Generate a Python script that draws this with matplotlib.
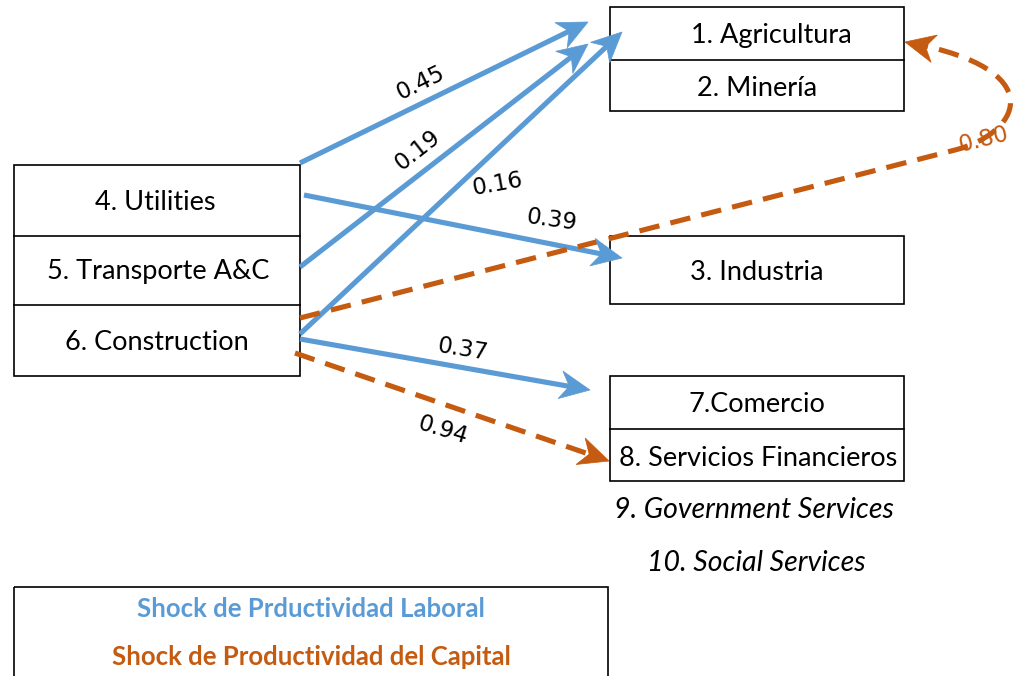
import numpy as np
import matplotlib
matplotlib.use("Agg")
import matplotlib.pyplot as plt
from matplotlib.patches import Rectangle, Polygon, PathPatch
from matplotlib.path import Path

BLUE = "#5b9bd5"
ORANGE = "#c55a11"

# sector labels
left_sectors = ["4. Utilities", "5. Transporte A&C", "6. Construction"]
top_sectors = ["1. Agricultura", "2. Minería"]
mid_sectors = ["3. Industria"]
bottom_sectors = ["7.Comercio", "8. Servicios Financieros"]
extra_sectors = ["9. Government Services", "10. Social Services"]
legend_labels = ["Shock de Prductividad Laboral", "Shock de Productividad del Capital"]

# labour productivity shock coefficients (blue)
labor_values = [0.45, 0.19, 0.16, 0.39, 0.37]
# capital productivity shock coefficients (orange)
capital_values = [0.94, 0.80]

fig = plt.figure(figsize=(10.16, 6.76), dpi=100)
ax = fig.add_axes([0, 0, 1, 1])
ax.set_xlim(0, 1016)
ax.set_ylim(676, 0)
ax.axis("off")

FONT = "Lato"
FS = 19.5
NFS = 16.5


def box(x0, y0, x1, y1, dividers=()):
    ax.add_patch(Rectangle((x0, y0), x1 - x0, y1 - y0, fill=False, ec="black", lw=1.2))
    for d in dividers:
        ax.plot([x0, x1], [d, d], color="black", lw=1.2)


def head(tip, frm, color, length=30, width=28, notch=0.3):
    tip = np.array(tip, float)
    d = tip - np.array(frm, float)
    d /= np.hypot(*d)
    n = np.array([-d[1], d[0]])
    base = tip - d * length
    pts = [tip, base + n * width / 2, tip - d * length * (1 - notch), base - n * width / 2]
    ax.add_patch(Polygon(pts, closed=True, fc=color, ec=color, lw=0.5, zorder=4))


def arrow(p0, p1, color, dashed=False):
    p0 = np.array(p0, float)
    p1 = np.array(p1, float)
    d = (p1 - p0) / np.hypot(*(p1 - p0))
    end = p1 - d * 16
    ls = (0, (4, 2.2)) if dashed else "-"
    ax.plot([p0[0], end[0]], [p0[1], end[1]], color=color, lw=3.7, ls=ls,
            solid_capstyle="butt", dash_capstyle="butt", zorder=3)
    head(p1, p0, color)


# boxes
box(14, 165, 300, 376, dividers=(236, 305))
box(610, 7, 904, 111, dividers=(60,))
box(610, 236, 904, 304)
box(610, 376, 904, 481, dividers=(429,))
ax.add_patch(Rectangle((14, 587), 594, 100, fill=False, ec="black", lw=1.2, clip_on=False))

for lab, (x, y) in zip(left_sectors, [(155, 203), (158, 272), (157, 343)]):
    ax.text(x, y, lab, ha="center", va="center", fontsize=FS, family=FONT)
for lab, (x, y) in zip(top_sectors, [(771, 36), (757, 88)]):
    ax.text(x, y, lab, ha="center", va="center", fontsize=FS, family=FONT)
ax.text(757, 272, mid_sectors[0], ha="center", va="center", fontsize=FS, family=FONT)
for lab, (x, y) in zip(bottom_sectors, [(757, 405), (758, 458)]):
    ax.text(x, y, lab, ha="center", va="center", fontsize=FS, family=FONT)
for lab, (x, y) in zip(extra_sectors, [(754, 510), (756, 563)]):
    ax.text(x, y, lab, ha="center", va="center", fontsize=20.5, family=FONT, style="italic")

for lab, col, y in zip(legend_labels, [BLUE, ORANGE], [609, 657]):
    ax.text(311, y, lab, ha="center", va="center", fontsize=18.5, family=FONT,
            weight="bold", color=col)

# labour shock arrows
labor_arrows = [((300, 163), (588, 22)), ((300, 267), (588, 44)), ((300, 334), (622, 32)),
                ((304, 195), (622, 258)), ((300, 339), (590, 390))]
labor_text = [((421, 83), 26), ((418, 150), 38), ((498, 184), 10), ((552, 220), -8), ((463, 350), -9)]
for (p0, p1), v, ((tx, ty), rot) in zip(labor_arrows, labor_values, labor_text):
    arrow(p0, p1, BLUE)
    ax.text(tx, ty, f"{v:.2f}", ha="center", va="center", fontsize=NFS, rotation=rot,
            family="DejaVu Sans", zorder=5)

# capital shock: construction -> servicios financieros
arrow((295, 353), (609, 461), ORANGE, dashed=True)
ax.text(443, 430, f"{capital_values[0]:.2f}", ha="center", va="center", fontsize=NFS,
        rotation=-17, family="DejaVu Sans")

# capital shock: construction -> agricultura (curved)
verts = [(300, 318), (955, 150), (1018, 134), (1050, 74), (925, 46)]
codes = [Path.MOVETO, Path.LINETO, Path.CURVE4, Path.CURVE4, Path.CURVE4]
ax.add_patch(PathPatch(Path(verts, codes), fill=False, ec=ORANGE, lw=3.7,
                       ls=(0, (4, 2.2)), capstyle="butt", zorder=3))
head((905, 42), (940, 50), ORANGE)
ax.text(984, 140, f"{capital_values[1]:.2f}", ha="center", va="center", fontsize=NFS,
        rotation=14, color=ORANGE, family="DejaVu Sans")

fig.savefig("out.png", dpi=100)
